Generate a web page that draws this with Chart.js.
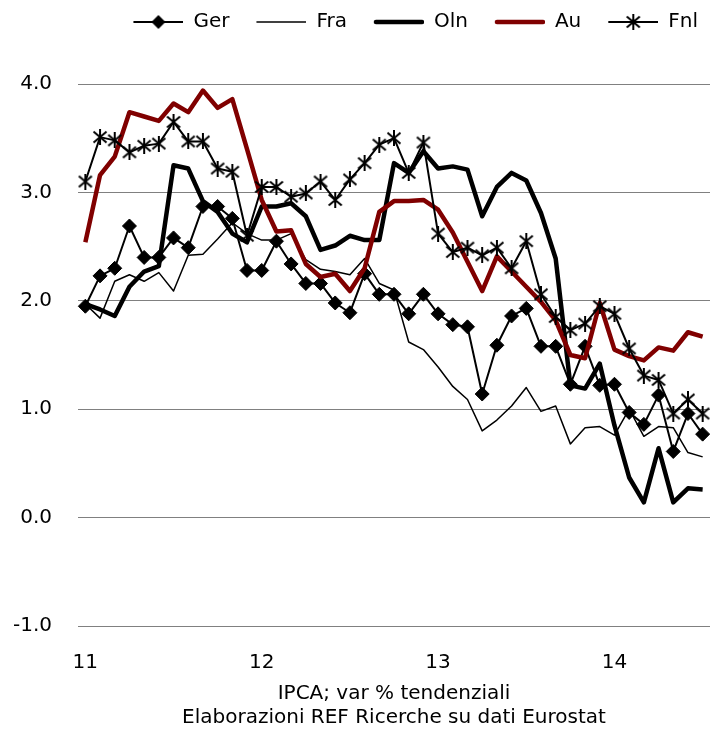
<!DOCTYPE html>
<html lang="it">
<head>
<meta charset="UTF-8">
<title>IPCA; var % tendenziali</title>
<script src="https://cdn.jsdelivr.net/npm/chart.js"></script>
<style>
body{margin:0;background:#fff;}
.wrap{width:710px;height:734px;position:relative;}
</style>
</head>
<body>
<div class="wrap"><canvas id="chart"></canvas></div>
<script>
/* ---------- data: monthly, gen 2011 .. lug 2014 ---------- */
const months = [
  'gen-11','feb-11','mar-11','apr-11','mag-11','giu-11','lug-11','ago-11','set-11','ott-11','nov-11','dic-11',
  'gen-12','feb-12','mar-12','apr-12','mag-12','giu-12','lug-12','ago-12','set-12','ott-12','nov-12','dic-12',
  'gen-13','feb-13','mar-13','apr-13','mag-13','giu-13','lug-13','ago-13','set-13','ott-13','nov-13','dic-13',
  'gen-14','feb-14','mar-14','apr-14','mag-14','giu-14','lug-14'
];

const ger = [1.95,2.23,2.30,2.69,2.40,2.40,2.58,2.49,2.87,2.87,2.76,2.28,2.28,2.55,2.34,2.16,2.16,1.98,1.89,2.25,
             2.06,2.06,1.88,2.06,1.88,1.78,1.76,1.14,1.59,1.86,1.93,1.58,1.58,1.23,1.58,1.22,1.23,0.97,0.86,1.13,
             0.61,0.96,0.77];
const fra = [1.97,1.84,2.18,2.24,2.18,2.26,2.09,2.42,2.43,2.57,2.72,2.62,2.56,2.56,2.62,2.38,2.29,2.27,2.24,2.39,
             2.16,2.10,1.62,1.55,1.39,1.21,1.09,0.80,0.90,1.03,1.20,0.98,1.03,0.68,0.83,0.84,0.76,1.00,0.75,0.84,
             0.83,0.60,0.56];
const oln = [1.97,1.92,1.86,2.13,2.27,2.32,3.25,3.22,2.92,2.82,2.62,2.54,2.87,2.87,2.90,2.78,2.47,2.51,2.60,2.56,
             2.56,3.27,3.18,3.38,3.22,3.24,3.21,2.78,3.05,3.18,3.11,2.81,2.39,1.22,1.19,1.42,0.85,0.37,0.14,0.64,
             0.14,0.27,0.26];
const au  = [2.54,3.16,3.33,3.74,3.70,3.66,3.82,3.74,3.94,3.78,3.86,3.40,2.93,2.64,2.65,2.34,2.22,2.25,2.09,2.30,
             2.82,2.92,2.92,2.93,2.84,2.63,2.36,2.09,2.41,2.27,2.13,1.99,1.82,1.50,1.47,1.98,1.55,1.49,1.45,1.57,
             1.54,1.71,1.67];
const fnl = [3.10,3.51,3.48,3.37,3.43,3.45,3.65,3.47,3.47,3.22,3.19,2.60,3.05,3.05,2.96,2.99,3.10,2.93,3.12,3.27,
             3.44,3.50,3.18,3.46,2.62,2.45,2.49,2.42,2.49,2.30,2.55,2.06,1.85,1.73,1.79,1.95,1.88,1.56,1.31,1.27,
             0.96,1.09,0.96];

const axisTitle = ['IPCA; var % tendenziali', 'Elaborazioni REF Ricerche su dati Eurostat'];

const RED = '#800000';

/* ---------- markers drawn on small canvases ---------- */
function asterisk(){
  const c = document.createElement('canvas');
  c.width = 16; c.height = 16;
  const g = c.getContext('2d');
  g.strokeStyle = '#000'; g.lineWidth = 2;
  g.beginPath();
  g.moveTo(8, 0);   g.lineTo(8, 16);
  g.moveTo(1.5, 2.5);  g.lineTo(14.5, 13.5);
  g.moveTo(14.5, 2.5); g.lineTo(1.5, 13.5);
  g.stroke();
  return c;
}

// legend sample: blank on the left, then a 50px line with the marker in its middle
function legendIcon(color, width, marker){
  const c = document.createElement('canvas');
  c.width = 65; c.height = 20;
  const g = c.getContext('2d');
  g.strokeStyle = color; g.lineWidth = width;
  g.lineCap = width > 3 ? 'round' : 'butt';
  g.beginPath();
  g.moveTo(width > 3 ? 17 : 15, 10); g.lineTo(width > 3 ? 63 : 65, 10);
  g.stroke();
  if (marker === 'diamond') {
    g.fillStyle = '#000';
    g.beginPath();
    g.moveTo(40, 3); g.lineTo(47, 10); g.lineTo(40, 17); g.lineTo(33, 10);
    g.closePath(); g.fill();
  }
  if (marker === 'star') g.drawImage(asterisk(), 32, 2);
  return c;
}

const legendIcons = [
  legendIcon('#000', 2, 'diamond'),
  legendIcon('#000', 1.5),
  legendIcon('#000', 4.5),
  legendIcon(RED, 4.5),
  legendIcon('#000', 2, 'star')
];

/* push the plot away from the legend */
const legendSpacer = {
  id: 'legendSpacer',
  beforeInit(chart){
    const fit = chart.legend.fit;
    chart.legend.fit = function(){
      fit.bind(chart.legend)();
      this.height += 42;
    };
  }
};

Chart.defaults.font.family = "'DejaVu Sans', Verdana, sans-serif";
Chart.defaults.font.size = 20;
Chart.defaults.color = '#000';

new Chart(document.getElementById('chart'), {
  type: 'line',
  data: {
    labels: months,
    datasets: [
      {label:'Ger', data:ger, borderColor:'#000', borderWidth:2, pointStyle:'rectRot', pointRadius:7,
       pointBackgroundColor:'#000', pointBorderColor:'#000', pointBorderWidth:1, order:5},
      {label:'Fra', data:fra, borderColor:'#000', borderWidth:1.5, pointRadius:0, order:4},
      {label:'Oln', data:oln, borderColor:'#000', borderWidth:4.5, pointRadius:0, order:3},
      {label:'Au',  data:au,  borderColor:RED,    borderWidth:4.5, pointRadius:0, order:2},
      {label:'Fnl', data:fnl, borderColor:'#000', borderWidth:2, pointStyle:asterisk(), pointRadius:8, order:1}
    ]
  },
  options: {
    responsive: true,
    maintainAspectRatio: false,
    animation: false,
    events: [],
    layout: {padding: 0, autoPadding: false},
    elements: {line: {tension: 0, borderJoinStyle: 'round', fill: false}},
    scales: {
      x: {
        offset: true,
        grid: {display: false},
        border: {display: true, color: '#808080', width: 1},
        ticks: {
          autoSkip: false, maxRotation: 0, padding: 17,
          callback: (v, i) => months[i].startsWith('gen') ? months[i].slice(4) : ''
        },
        title: {display: true, text: axisTitle, lineHeight: 1.3, padding: {top: 11, bottom: 4}},
        // fixed height, and no side padding so the plot runs to the right edge
        afterFit: s => { s.height = 108; s.paddingLeft = 0; s.paddingRight = 0; }
      },
      y: {
        min: -1, max: 4,
        grid: {color: '#808080', lineWidth: 1, drawTicks: false},
        border: {display: false},
        ticks: {stepSize: 1, padding: 26, callback: v => v.toFixed(1)},
        afterFit: s => { s.width = 78; }
      }
    },
    plugins: {
      tooltip: {enabled: false},
      legend: {
        position: 'top',
        align: 'end',
        labels: {
          usePointStyle: true,
          pointStyleWidth: 65,
          padding: 12,
          sort: (a, b) => a.datasetIndex - b.datasetIndex,
          generateLabels(chart){
            const items = Chart.defaults.plugins.legend.labels.generateLabels(chart);
            items.forEach(it => { it.pointStyle = legendIcons[it.datasetIndex]; });
            return items;
          }
        }
      }
    }
  },
  plugins: [legendSpacer]
});
</script>
</body>
</html>
